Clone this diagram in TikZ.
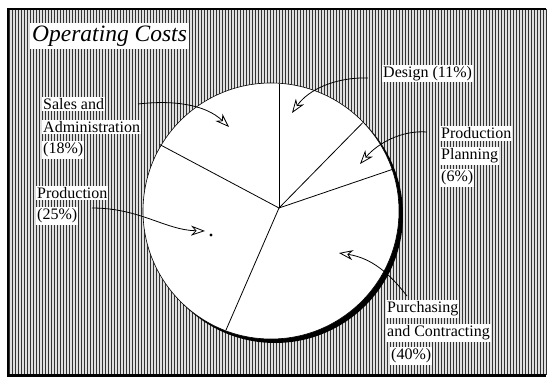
\documentclass[tikz,border=0pt]{standalone}
\usepackage{fontspec}
\setmainfont{Liberation Serif}
\usetikzlibrary{arrows.meta}

\tikzset{
  lbl/.style={fill=white, inner xsep=1pt, inner ysep=1.5pt, anchor=west,
    font=\fontsize{16}{18}\selectfont},
  ttl/.style={fill=white, inner xsep=2pt, inner ysep=3pt, anchor=west,
    font=\fontsize{23.5}{26}\selectfont\itshape},
  slice/.style={line width=0.8pt, black},
  pointer/.style={line width=0.8pt, black,
    -{Stealth[open, fill=white, length=14pt, width=10pt, inset=4.5pt, line width=0.8pt]}},
}

\begin{document}
\begin{tikzpicture}[x=1pt, y=-1pt]
  \useasboundingbox (0,0) rectangle (547,383);

  % striped backdrop
  \fill[white] (0,0) rectangle (547,383);
  \fill[black!12] (8,9) rectangle (546,375);
  \foreach \x in {9,12,...,546}
    \draw[line width=0.9pt, black!80] (\x,9) -- (\x,375);
  \draw[line width=1.2pt] (546,9) -- (8,9) -- (8,375);
  \draw[line width=3pt] (7.4,375) -- (546,375);

  % pie with drop shadow
  \coordinate (c) at (271,211);
  \fill[black] (275,215) circle[radius=128];
  \fill[white] (c) circle[radius=128];
  \draw[line width=0.6pt] (c) circle[radius=128];

  \coordinate (hub) at (279,208);
  \coordinate (r1) at (279,83.5);
  \coordinate (r2) at (362.7,122.7);
  \coordinate (r3) at (392.7,169.3);
  \coordinate (r4) at (226,330);
  \coordinate (r5) at (159.7,144.5);
  \foreach \r in {r1,r2,r3,r4,r5}
    \draw[slice] (hub) -- (\r);

  % title
  \node[ttl] (title) at (30,36) {Operating Costs};

  % labels
  \node[lbl] (design) at (382,73.5) {Design (11\%)};

  \node[lbl] (pp1) at (440,133.5) {Production};
  \node[lbl] (pp2) at (440,156) {Planning};
  \node[lbl] (pp3) at (440,178) {(6\%)};

  \node[lbl] (sa1) at (42,104) {Sales and};
  \node[lbl] (sa2) at (42,127) {Administration};
  \node[lbl] (sa3) at (42,150) {(18\%)};

  \node[lbl] (pr1) at (36,193) {Production};
  \node[lbl] (pr2) at (36,216) {(25\%)};

  \node[lbl] (pc1) at (386,309) {Purchasing};
  \node[lbl] (pc2) at (386,333) {and Contracting};
  \node[lbl] (pc3) at (390,356) {(40\%)};

  % pointer ends
  \coordinate (dS) at (368,78);   \coordinate (dT) at (292,113);
  \coordinate (pS) at (427,132);  \coordinate (pT) at (360,164);
  \coordinate (sS) at (138,104);  \coordinate (sT) at (229,127);
  \coordinate (qS) at (92,208);   \coordinate (qT) at (205,231);
  \coordinate (uS) at (407,296);  \coordinate (uT) at (339,253);

  \draw[pointer] (dS) .. controls (335,77) and (308,90) .. (dT);
  \draw[pointer] (pS) .. controls (402,130) and (378,143) .. (pT);
  \draw[pointer] (sS) .. controls (172,100) and (205,104) .. (sT);
  \draw[pointer] (qS) .. controls (140,208) and (165,230) .. (qT);
  \draw[pointer] (uS) .. controls (390,274) and (372,258) .. (uT);

  \fill (211,235) circle[radius=1.6];
\end{tikzpicture}
\end{document}
